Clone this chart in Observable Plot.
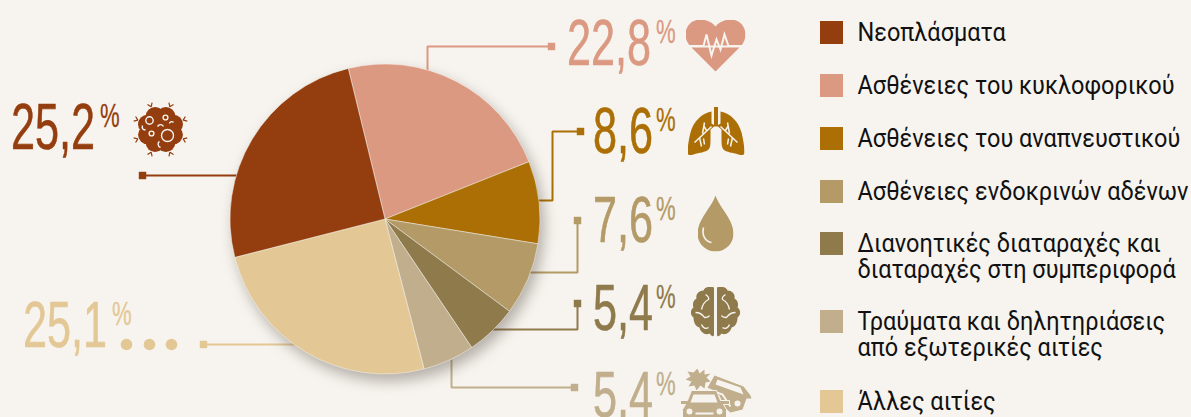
<!DOCTYPE html>
<html><head><meta charset="utf-8">
<script src="https://cdn.jsdelivr.net/npm/d3@7"></script>
<script src="https://cdn.jsdelivr.net/npm/@observablehq/plot@0.6"></script>
<style>html,body{margin:0;padding:0;background:#f7f4ef;overflow:hidden}svg{display:block}</style>
</head><body><div id="chart"></div>
<script>
// data, clockwise from the top of the pie
const categories = ["Ασθένειες του κυκλοφορικού","Ασθένειες του αναπνευστικού","Ασθένειες ενδοκρινών αδένων","Διανοητικές διαταραχές και\nδιαταραχές στη συμπεριφορά","Τραύματα και δηλητηριάσεις\nαπό εξωτερικές αιτίες","Άλλες αιτίες","Νεοπλάσματα"];
const values = [22.8, 8.6, 7.6, 5.4, 5.4, 25.1, 25.2];
const labels = ["22,8","8,6","7,6","5,4","5,4","25,1","25,2"];
const colors = ["#dc9982","#ab6f05","#b49a67","#8f7a4c","#c0ae8c","#e3c896","#943d0e"];

// legend order and layout
const legendOrder = [6,0,1,2,3,4,5];
const legendTop = [21,74,127,180,232,310,390];

// layout
const BG = "#f7f4ef";
const W = 1191, H = 417;
const center = [385,219], R = 155, startDeg = -13.7;
const numberX = [566.5,592.5,592.5,592.5,592.5,22.5,10.5];
const numberBase = [64,152,241,329,416,346,148];
const percentX = [655.5,655.5,655.5,655.5,655.5,111.5,99.5];
const leaders = [
  [[427,69],[427,46],[551,46]],
  [[538,200],[552,200],[552,131],[580,131]],
  [[530,272],[577,272],[577,220]],
  [[490,329],[577,329],[577,303]],
  [[451,360],[451,387],[574,387]],
  [[203,344],[297,344]],
  [[142,175],[238,175]]
];
const ellipsis = [126,149,171];
const ellipsisY = 344;

// icons
const heart = c => `<svg xmlns="http://www.w3.org/2000/svg" viewBox="0 0 60 52"><path fill="${c}" d="M30 7C26 2 20 0 15 0C6 0 0 7 0 15C0 20 2 23 4 26H56C58 23 60 20 60 15C60 7 54 0 45 0C40 0 34 2 30 7Z M6 28H54L30 52Z"/><path fill="none" stroke="${BG}" stroke-width="2" d="M2 26.5H18L21 15L26 36L31 20L35 30L39 15L43 26.5H58"/></svg>`;
const lung = c => { const side = `<path fill="${c}" d="M24 5C14 7 6 15 3 26C1 34 0 42 0 46C0 49 3 49 6 48C12 46 18 46 21 43C23 41 23 37 23 33V23L26.5 20L26.5 0H30.5V20H29L24 17Z"/><path fill="none" stroke="${BG}" stroke-width="1.5" d="M24 20L7 36M15 27L17 16M19 24L16 19M16 32L17 38M12 31L14 40"/>`; return `<svg xmlns="http://www.w3.org/2000/svg" viewBox="0 0 57 50">${side}<g transform="translate(57,0) scale(-1,1)">${side}</g></svg>`; };
const drop = c => `<svg xmlns="http://www.w3.org/2000/svg" viewBox="0 0 36 56"><path fill="${c}" d="M18 0C14 12 0 24 0 38A18 18 0 0 0 36 38C36 24 22 12 18 0Z"/><path fill="none" stroke="${BG}" stroke-width="1.6" d="M6 32C4 40 8 46 14 47"/></svg>`;
const brain = c => { const side = `<path fill="${c}" d="M23.5 1C19 -1 14 1 13 4C8 4 5 8 6 12C2 14 2 19 3 21C-1 24 0 29 3 31C3 36 5 40 9 41C10 46 15 49 19 47C21 50 23.5 51 23.5 48Z"/><path fill="none" stroke="${BG}" stroke-width="1.3" d="M15 8C18 10 19 11 18 13C14 15 12 18 11 23M5 26C9 26 12 28 14 31C16 31 18 31 19 29M11 38C12 41 15 43 18 41"/>`; return `<svg xmlns="http://www.w3.org/2000/svg" viewBox="0 0 50 51">${side}<g transform="translate(50,0) scale(-1,1)">${side}</g></svg>`; };
const car = c => `<svg xmlns="http://www.w3.org/2000/svg" viewBox="0 0 72 52"><path fill="${c}" d="M17 0L19 5L24 1L24 6L30 5L26 9L30 13L25 14L24 20L20 17L16 22L14 17L8 18L11 13L5 11L10 8L7 3L13 4Z"/><path fill="${c}" d="M34 7L63 18L70 27L71 30L66 30L62 41L50 44L44 39L39 27L26 21Z"/><path fill="${BG}" d="M37 11L60 19L63 26L35 16Z"/><circle cx="57" cy="35" r="3" fill="${BG}"/><path fill="none" stroke="${BG}" stroke-width="2" d="M26 20L42 26L50 38"/><path fill="${c}" d="M11 22H36L40 32H49V36H43L46 41V52H2V41L5 36H0V32H7Z" stroke="${BG}" stroke-width="1"/><path fill="${BG}" d="M13 26H34L37 34H10Z"/><circle cx="9" cy="43" r="3" fill="${BG}"/><circle cx="39" cy="43" r="3" fill="${BG}"/><rect x="15" y="44" width="18" height="2" fill="${BG}"/></svg>`;
const cell = c => {
  const bumps = d3.range(8).map(i => { const a = (i+.5)*Math.PI/4; return `<circle cx="${28+14*Math.cos(a)}" cy="${28+14*Math.sin(a)}" r="9.5" fill="${c}"/>`; }).join("");
  const ticks = d3.range(8).map(i => { const a = (i+.5)*Math.PI/4, x = 28+24.5*Math.cos(a), y = 28+24.5*Math.sin(a), x2 = 28+28*Math.cos(a), y2 = 28+28*Math.sin(a); return `<path d="M${x} ${y}L${x2-2.5*Math.sin(a)} ${y2+2.5*Math.cos(a)}M${x} ${y}L${x2+2.5*Math.sin(a)} ${y2-2.5*Math.cos(a)}" stroke="${c}" stroke-width="1.2" fill="none"/>`; }).join("");
  return `<svg xmlns="http://www.w3.org/2000/svg" viewBox="0 0 56 56"><circle cx="28" cy="28" r="19" fill="${c}"/>${bumps}${ticks}<g fill="none" stroke="${BG}" stroke-width="1.4"><circle cx="17" cy="19" r="3.7"/><circle cx="33" cy="16" r="2.4"/><circle cx="19" cy="32" r="2.4"/><circle cx="35" cy="34" r="6"/><path d="M10 24C9 27 11 29 13 28M25 25C27 22 30 23 31 25M41 21C39 19 37 21 37 22M28 46C25 45 25 41 27 40"/></g></svg>`;
};
const icons = [heart,lung,drop,brain,car,null,cell];
const iconBox = [[685,19,60,52],[687,106,57,50],[697,195,36,56],[690,286,50,51],[680,368,72,52],null,[132,101,56,56]];

const uri = s => "data:image/svg+xml;charset=utf-8," + encodeURIComponent(s);
const idx = d3.range(values.length);
const arcs = d3.pie().sort(null).value(d => d).startAngle(startDeg*Math.PI/180).endAngle((startDeg+360)*Math.PI/180)(values);
const arcPath = d3.arc().innerRadius(0).outerRadius(R);

const pieRender = (index, scales, v, dims, ctx) => {
  const g = d3.select(ctx.document.createElementNS("http://www.w3.org/2000/svg","g"))
    .attr("style","filter:drop-shadow(4px 7px 7px rgba(60,50,40,.36))");
  for (const i of index) g.append("path")
    .attr("transform",`translate(${v.x[i]},${v.y[i]})`)
    .attr("d",arcPath(arcs[i])).attr("fill",colors[i]).attr("stroke",BG).attr("stroke-width",0.5);
  return g.node();
};
// narrow each text horizontally, keeping its anchor
const squeeze = sx => (index, scales, v, dims, ctx, next) => {
  const g = next(index, scales, v, dims, ctx);
  d3.select(g).selectAll("text").attr("transform", function(){ return `${this.getAttribute("transform")||""} scale(${sx},1)`; });
  return g;
};

const NUMFONT = "'Liberation Sans',sans-serif";
const leaderRows = leaders.flatMap((p,s) => p.map(q => ({s,x:q[0],y:q[1]})));
const endRows = leaders.map((p,s) => { const q = s>=5 ? p[0] : p[p.length-1]; return {s,x:q[0],y:q[1]}; });
const iconIdx = idx.filter(i => icons[i]);

const plot = Plot.plot({
  width: W, height: H, margin: 0,
  style: {background: BG},
  x: {domain:[0,W], range:[0,W], axis:null},
  y: {domain:[0,H], range:[0,H], axis:null},
  marks: [
    Plot.line(leaderRows,{x:"x",y:"y",z:"s",stroke:d=>colors[d.s],strokeWidth:2,strokeLinejoin:"miter",curve:"linear"}),
    Plot.dot(endRows,{x:"x",y:"y",fill:d=>colors[d.s],symbol:"square",r:4.2}),
    Plot.dot(ellipsis,{x:d=>d,y:ellipsisY,fill:colors[5],r:5.8}),
    Plot.dot(idx,{x:()=>center[0],y:()=>center[1],render:pieRender}),
    Plot.text(idx,{x:i=>numberX[i],y:i=>numberBase[i],text:i=>labels[i],fill:i=>colors[i],stroke:i=>colors[i],strokeWidth:0.6,fontSize:64,fontFamily:NUMFONT,textAnchor:"start",lineAnchor:"bottom",render:squeeze(0.675)}),
    Plot.text(idx,{x:i=>percentX[i],y:i=>numberBase[i]-22,text:()=>"%",fill:i=>colors[i],stroke:i=>colors[i],strokeWidth:0.3,fontSize:34,fontFamily:NUMFONT,textAnchor:"start",lineAnchor:"bottom",render:squeeze(0.65)}),
    Plot.image(iconIdx,{x:i=>iconBox[i][0]+iconBox[i][2]/2,y:i=>iconBox[i][1]+iconBox[i][3]/2,width:i=>iconBox[i][2],height:i=>iconBox[i][3],src:i=>uri(icons[i](colors[i]))}),
    Plot.rect(legendOrder,{x1:()=>820,x2:()=>843,y1:(d,k)=>legendTop[k],y2:(d,k)=>legendTop[k]+23,fill:d=>colors[d]}),
    Plot.text(legendOrder,{x:()=>857,y:(d,k)=>legendTop[k]+1,text:d=>categories[d],fill:"#111",fontSize:25,fontFamily:"Roboto,sans-serif",textAnchor:"start",lineAnchor:"top",lineHeight:1.04,render:squeeze(0.94)})
  ]
});
document.getElementById("chart").append(plot);
</script></body></html>
